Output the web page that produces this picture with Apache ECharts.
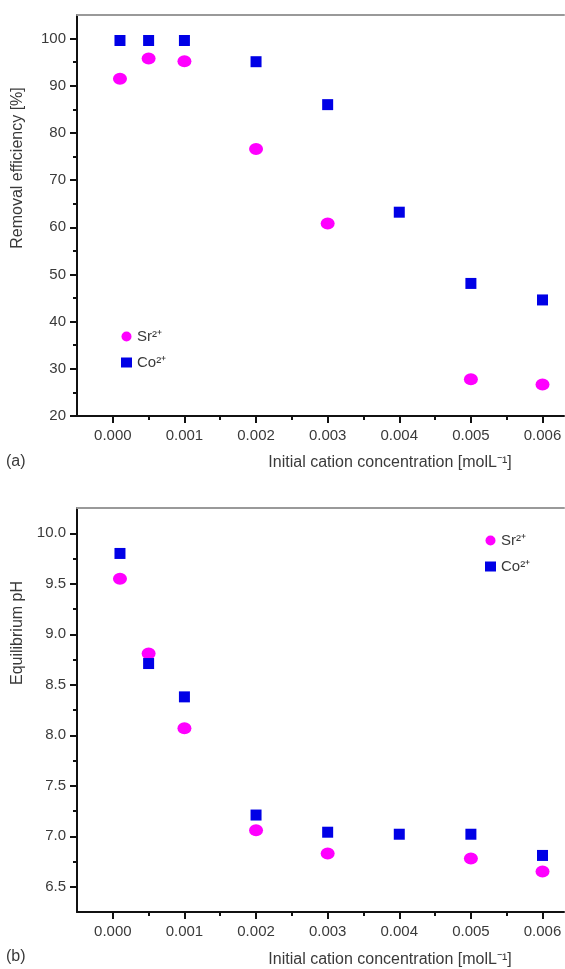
<!DOCTYPE html>
<html>
<head>
<meta charset="utf-8">
<style>
html,body{margin:0;padding:0;background:#fff;}
#chart{width:565px;height:969px;}
</style>
<script src="https://cdn.jsdelivr.net/npm/echarts@6/dist/echarts.min.js"></script>
</head>
<body>
<div id="chart"></div>
<script>
// ---- data ----
var conc = [0.0001, 0.0005, 0.001, 0.002, 0.003, 0.004, 0.005, 0.006];
var srRemoval = [91.5, 95.8, 95.2, 76.6, 60.8, null, 27.8, 26.7];
var coRemoval = [99.6, 99.6, 99.6, 95.1, 86.0, 63.2, 48.1, 44.6];
var srPH = [9.55, 8.81, 8.07, 7.06, 6.83, null, 6.78, 6.65];
var coPH = [9.80, 8.71, 8.38, 7.21, 7.04, 7.02, 7.02, 6.81];
var xTicks = [0, 0.001, 0.002, 0.003, 0.004, 0.005, 0.006];
var xMinorTicks = [0.0005, 0.0015, 0.0025, 0.0035, 0.0045, 0.0055];
var yTicksA = [20, 30, 40, 50, 60, 70, 80, 90, 100];
var yMinorA = [25, 35, 45, 55, 65, 75, 85, 95];
var yTicksB = [6.5, 7.0, 7.5, 8.0, 8.5, 9.0, 9.5, 10.0];
var yMinorB = [6.75, 7.25, 7.75, 8.25, 8.75, 9.25, 9.75];
var seriesNames = ['Sr\u00B2\u207A', 'Co\u00B2\u207A'];
var xTitle = 'Initial cation concentration [molL\u207B\u00B9]';
var yTitleA = 'Removal efficiency [%]';
var yTitleB = 'Equilibrium pH';

function pairs(xs, ys) {
  var out = [];
  for (var i = 0; i < xs.length; i++) if (ys[i] != null) out.push([xs[i], ys[i]]);
  return out;
}

var FONT = 'Liberation Sans, Arial, sans-serif';
var LBL = '#3a3a3a';
var XMIN = -0.0005, XMAX = 0.0063;

function mainX(gi) {
  return {
    type: 'value', gridIndex: gi, position: 'bottom', min: XMIN, max: XMAX,
    splitLine: {show: false},
    axisLine: {show: true, onZero: false, lineStyle: {color: '#111', width: 2}},
    axisTick: {show: true, inside: false, length: 7, customValues: xTicks, lineStyle: {color: '#111', width: 2}},
    axisLabel: {show: true, customValues: xTicks, margin: 12, color: LBL, fontFamily: FONT, fontSize: 15,
      formatter: function (v) { return v.toFixed(3); }}
  };
}
function minorX(gi) {
  return {
    type: 'value', gridIndex: gi, position: 'bottom', min: XMIN, max: XMAX,
    splitLine: {show: false},
    axisLine: {show: false, onZero: false},
    axisTick: {show: true, inside: false, length: 4, customValues: xMinorTicks, lineStyle: {color: '#111', width: 2}},
    axisLabel: {show: false}
  };
}
function borderX(gi) {
  return {
    type: 'value', gridIndex: gi, position: 'top', min: XMIN, max: XMAX,
    splitLine: {show: false},
    axisLine: {show: true, onZero: false, lineStyle: {color: '#999', width: 2}},
    axisTick: {show: false}, axisLabel: {show: false}
  };
}
function mainY(gi, mn, mx, ticks, dec) {
  return {
    type: 'value', gridIndex: gi, position: 'left', min: mn, max: mx,
    splitLine: {show: false},
    axisLine: {show: true, onZero: false, lineStyle: {color: '#111', width: 2}},
    axisTick: {show: true, inside: false, length: 7, customValues: ticks, lineStyle: {color: '#111', width: 2}},
    axisLabel: {show: true, customValues: ticks, margin: 11, color: LBL, fontFamily: FONT, fontSize: 15,
      formatter: function (v) { return v.toFixed(dec); }}
  };
}
function minorY(gi, mn, mx, ticks) {
  return {
    type: 'value', gridIndex: gi, position: 'left', min: mn, max: mx,
    splitLine: {show: false},
    axisLine: {show: false, onZero: false},
    axisTick: {show: true, inside: false, length: 4, customValues: ticks, lineStyle: {color: '#111', width: 2}},
    axisLabel: {show: false}
  };
}

var SR_COLOR = '#ff00ff', CO_COLOR = '#0000e6';

function legendFor(left, top) {
  return {
    orient: 'vertical', left: left, top: top, itemGap: 11, itemWidth: 11, itemHeight: 10,
    textStyle: {fontFamily: FONT, fontSize: 15, color: LBL},
    itemStyle: {opacity: 1},
    data: [{name: seriesNames[0], icon: 'circle'}, {name: seriesNames[1], icon: 'rect'}],
    selectedMode: false
  };
}

var option = {
  backgroundColor: '#fff',
  animation: false,
  grid: [
    {left: 77, right: 1, top: 15, height: 401},
    {left: 77, right: 1, top: 508, height: 404}
  ],
  xAxis: [mainX(0), minorX(0), borderX(0), mainX(1), minorX(1), borderX(1)],
  yAxis: [
    mainY(0, 20, 105, yTicksA, 0), minorY(0, 20, 105, yMinorA),
    mainY(1, 6.25, 10.25, yTicksB, 1), minorY(1, 6.25, 10.25, yMinorB)
  ],
  legend: [legendFor(116, 324), legendFor(480, 528)],
  series: [
    {name: seriesNames[0], type: 'scatter', xAxisIndex: 0, yAxisIndex: 0, symbol: 'circle', symbolSize: [14, 12],
      itemStyle: {color: SR_COLOR, opacity: 1}, data: pairs(conc, srRemoval)},
    {name: seriesNames[1], type: 'scatter', xAxisIndex: 0, yAxisIndex: 0, symbol: 'rect', symbolSize: [11, 11],
      itemStyle: {color: CO_COLOR, opacity: 1}, data: pairs(conc, coRemoval)},
    {name: seriesNames[0], type: 'scatter', xAxisIndex: 3, yAxisIndex: 2, symbol: 'circle', symbolSize: [14, 12],
      itemStyle: {color: SR_COLOR, opacity: 1}, data: pairs(conc, srPH)},
    {name: seriesNames[1], type: 'scatter', xAxisIndex: 3, yAxisIndex: 2, symbol: 'rect', symbolSize: [11, 11],
      itemStyle: {color: CO_COLOR, opacity: 1}, data: pairs(conc, coPH)}
  ],
  graphic: [
    {type: 'text', x: 18, y: 168, rotation: Math.PI / 2,
      style: {text: yTitleA, fill: LBL, font: '16px ' + FONT, align: 'center', verticalAlign: 'middle'}},
    {type: 'text', x: 18, y: 633, rotation: Math.PI / 2,
      style: {text: yTitleB, fill: LBL, font: '16px ' + FONT, align: 'center', verticalAlign: 'middle'}},
    {type: 'text', x: 390, y: 463,
      style: {text: xTitle, fill: LBL, font: '16px ' + FONT, align: 'center', verticalAlign: 'middle'}},
    {type: 'text', x: 390, y: 960,
      style: {text: xTitle, fill: LBL, font: '16px ' + FONT, align: 'center', verticalAlign: 'middle'}},
    {type: 'text', x: 6, y: 462,
      style: {text: '(a)', fill: LBL, font: '16px ' + FONT, align: 'left', verticalAlign: 'middle'}},
    {type: 'text', x: 6, y: 957,
      style: {text: '(b)', fill: LBL, font: '16px ' + FONT, align: 'left', verticalAlign: 'middle'}}
  ]
};

var chart = echarts.init(document.getElementById('chart'), null, {renderer: 'canvas'});
chart.setOption(option);
</script>
</body>
</html>
